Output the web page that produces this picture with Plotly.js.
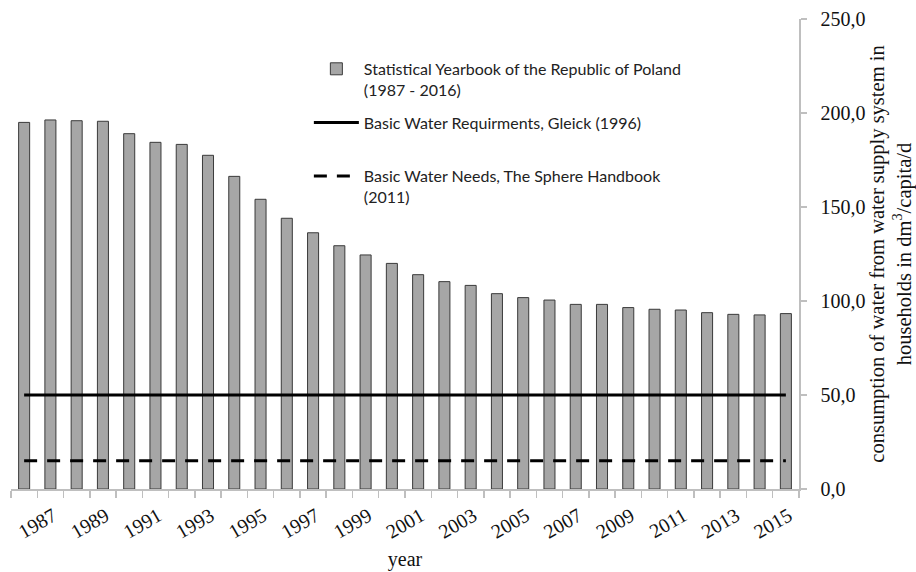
<!DOCTYPE html>
<html>
<head>
<meta charset="utf-8">
<script src="https://cdn.plot.ly/plotly-3.0.1.min.js"></script>
<style>html,body{margin:0;padding:0;background:#fff;}#chart{width:916px;height:572px;}</style>
</head>
<body>
<div id="chart"></div>
<script>
// Data
const years = [1987,1988,1989,1990,1991,1992,1993,1994,1995,1996,1997,1998,1999,2000,2001,
               2002,2003,2004,2005,2006,2007,2008,2009,2010,2011,2012,2013,2014,2015,2016];
const consumption = [195.0,196.3,195.9,195.6,189.0,184.4,183.3,177.5,166.3,154.1,144.0,136.3,129.4,124.5,120.0,
                     114.0,110.3,108.3,103.9,101.8,100.5,98.2,98.2,96.5,95.6,95.2,93.8,92.9,92.6,93.3];
const gleickYears = [1987, 2016];
const gleickValues = [50, 50];
const sphereYears = [1987, 2016];
const sphereValues = [15, 15];
const seriesNames = [
  "Statistical Yearbook of the Republic of Poland<br>(1987 - 2016)",
  "Basic Water Requirments, Gleick (1996)<br>\u00a0",
  "Basic Water Needs, The Sphere Handbook<br>(2011)"
];
const yTitle = "consumption of water from water supply system in<br>households in dm<sup>3</sup>/capita/d";
const xTitle = "year";

const serif = "Liberation Serif, Times New Roman, serif";
const sans = "Lato, Carlito, Calibri, sans-serif";

const traces = [
  {
    type: "bar", x: years, y: consumption, name: seriesNames[0], legendgroup: "a",
    width: 0.42,
    marker: {color: "#a6a6a6", line: {color: "#3a3a3a", width: 1}},
    hoverinfo: "x+y"
  },
  {
    type: "scatter", mode: "lines", x: gleickYears, y: gleickValues, name: seriesNames[1], legendgroup: "b",
    line: {color: "#000", width: 3}
  },
  {
    type: "scatter", mode: "lines", x: sphereYears, y: sphereValues, name: seriesNames[2], legendgroup: "c",
    line: {color: "#000", width: 3, dash: "13px,10px"}
  }
];

const layout = {
  width: 916, height: 572,
  margin: {l: 11, r: 117, t: 19, b: 83},
  paper_bgcolor: "#fff", plot_bgcolor: "#fff",
  separators: ", ",
  showlegend: true,
  legend: {
    x: 0.378, xanchor: "left", y: 0.93, yanchor: "top",
    font: {family: sans, size: 16, color: "#222"},
    bgcolor: "rgba(0,0,0,0)", borderwidth: 0,
    valign: "top", itemwidth: 45, tracegroupgap: 9,
    traceorder: "grouped"
  },
  xaxis: {
    type: "linear", range: [1986.5, 2016.5],
    tickmode: "linear", tick0: 1987, dtick: 2,
    ticks: "", showgrid: false, zeroline: false,
    showline: true, linecolor: "#bfbfbf", linewidth: 1.5,
    tickangle: -30, ticklabelshift: 29, ticklabelstandoff: 6,
    tickfont: {family: serif, size: 20, color: "#111"},
    minor: {tick0: 1986.5, dtick: 1, ticks: "outside", ticklen: 7, tickcolor: "#bfbfbf", tickwidth: 1.5, showgrid: false},
    title: {text: xTitle, font: {family: serif, size: 20, color: "#111"}, standoff: 10}
  },
  yaxis: {
    side: "right", range: [0, 250], tickmode: "linear", tick0: 0, dtick: 50,
    tickformat: ".1f",
    ticks: "outside", ticklen: 6, tickcolor: "#bfbfbf", tickwidth: 1.5,
    showline: true, linecolor: "#bfbfbf", linewidth: 1.5,
    showgrid: false, zeroline: false,
    ticklabelstandoff: 10,
    tickfont: {family: serif, size: 20, color: "#111"},
    title: {text: yTitle, font: {family: serif, size: 20.5, color: "#111"}, standoff: 8}
  }
};

Plotly.newPlot("chart", traces, layout, {displayModeBar: false, staticPlot: true});
</script>
</body>
</html>
